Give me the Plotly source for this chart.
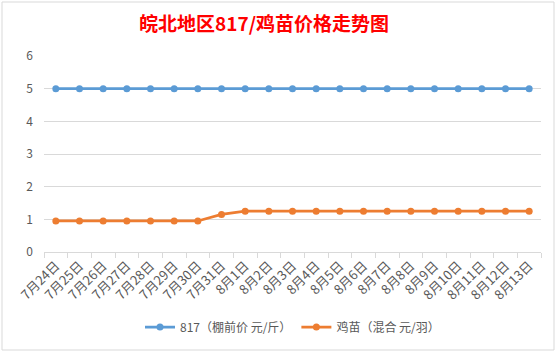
import plotly.graph_objects as go

categories = ["7月24日", "7月25日", "7月26日", "7月27日", "7月28日", "7月29日", "7月30日", "7月31日",
              "8月1日", "8月2日", "8月3日", "8月4日", "8月5日", "8月6日", "8月7日", "8月8日",
              "8月9日", "8月10日", "8月11日", "8月12日", "8月13日"]
price_817 = [5] * 21
chick_price = [0.95, 0.95, 0.95, 0.95, 0.95, 0.95, 0.95, 1.15,
               1.25, 1.25, 1.25, 1.25, 1.25, 1.25, 1.25, 1.25, 1.25, 1.25, 1.25, 1.25, 1.25]
name_817 = "817（棚前价 元/斤）"
name_chick = "鸡苗（混合 元/羽）"
title = "皖北地区817/鸡苗价格走势图"

W, H = 558, 353
L, R, T, B = 44, 17, 56, 101

fig = go.Figure()
fig.add_trace(go.Scatter(x=categories, y=price_817, name=name_817, mode="lines+markers",
                         line=dict(color="#5B9BD5", width=2.75), marker=dict(size=7, color="#5B9BD5")))
fig.add_trace(go.Scatter(x=categories, y=chick_price, name=name_chick, mode="lines+markers",
                         line=dict(color="#ED7D31", width=2.75), marker=dict(size=7, color="#ED7D31")))

pw = W - L - R
ph = H - T - B
fig.add_shape(type="rect", xref="paper", yref="paper",
              x0=(2 - L) / pw, x1=(554 - L) / pw, y0=(H - B - 350) / ph, y1=(H - B - 2) / ph,
              line=dict(color="#D9D9D9", width=1), layer="below")

fig.update_layout(
    width=W, height=H,
    margin=dict(l=L, r=R, t=T, b=B),
    paper_bgcolor="white", plot_bgcolor="white",
    font=dict(family="Noto Sans CJK SC, sans-serif", size=12, color="#595959"),
    title=dict(text=title, x=264 / W, xanchor="center", y=1 - 24 / H, yanchor="middle",
               font=dict(size=19, color="#FF0000", family="Noto Sans CJK SC, sans-serif", weight="bold")),
    showlegend=True,
    legend=dict(orientation="h", x=0.5, xanchor="center", y=-(327 - (H - B)) / ph, yanchor="middle",
                font=dict(size=12, color="#595959"), itemwidth=30),
    xaxis=dict(type="category", tickangle=-45, showgrid=False, showline=True, linecolor="#D9D9D9",
               linewidth=1, ticks="outside", tickson="boundaries", ticklen=5, tickcolor="#D9D9D9",
               tickfont=dict(size=13, color="#595959"), range=[-0.5, len(categories) - 0.5]),
    yaxis=dict(range=[0, 6], dtick=1, showgrid=True, gridcolor="#D9D9D9", gridwidth=1,
               zeroline=False, showline=False, tickfont=dict(size=12, color="#595959"),
               ticklabelstandoff=10),
)

fig.write_html("out.html")
